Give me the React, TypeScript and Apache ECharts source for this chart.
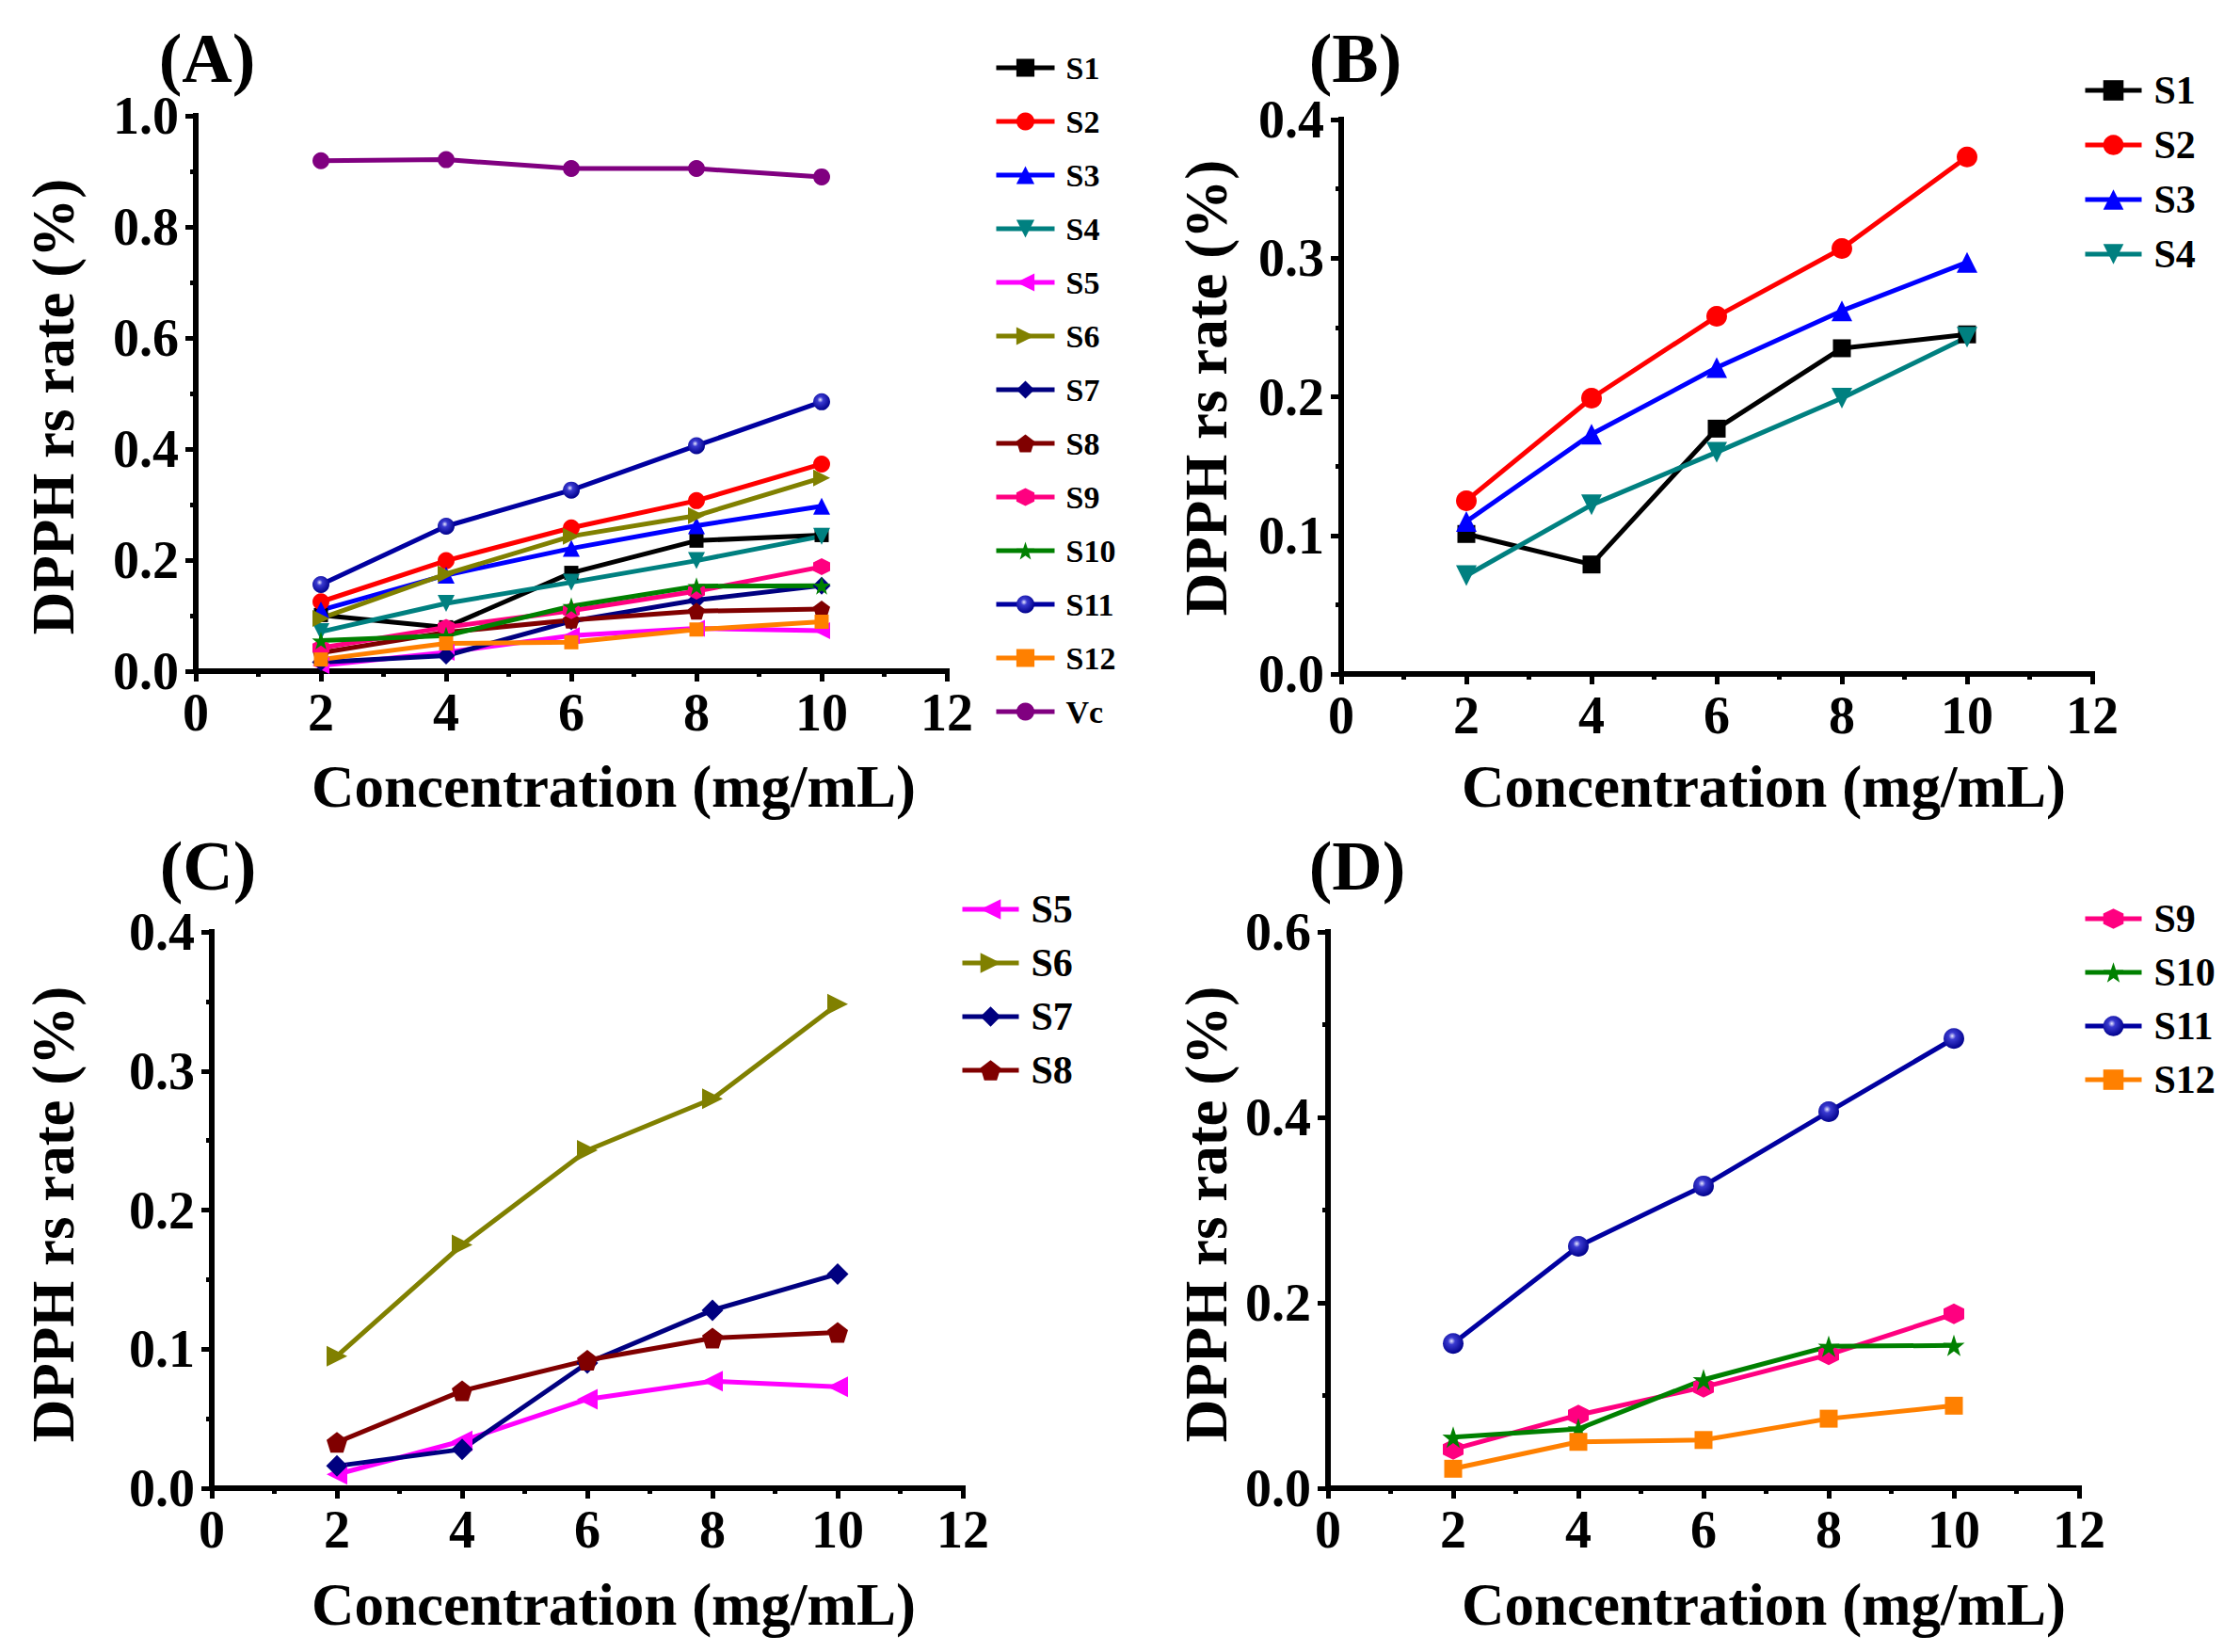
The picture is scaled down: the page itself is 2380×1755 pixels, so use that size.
import React, { useEffect, useRef } from 'react';
import * as echarts from 'echarts';

// ---- data ----
const conc = [2, 4, 6, 8, 10];
const s1 = [0.101, 0.079, 0.177, 0.235, 0.245];
const s2 = [0.125, 0.199, 0.258, 0.307, 0.373];
const s3 = [0.110, 0.173, 0.221, 0.262, 0.297];
const s4 = [0.071, 0.122, 0.160, 0.199, 0.243];
const s5 = [0.010, 0.034, 0.064, 0.077, 0.073];
const s6 = [0.095, 0.175, 0.243, 0.280, 0.348];
const s7 = [0.016, 0.028, 0.090, 0.128, 0.154];
const s8 = [0.033, 0.070, 0.092, 0.108, 0.112];
const s9 = [0.042, 0.079, 0.109, 0.144, 0.188];
const s10 = [0.055, 0.064, 0.117, 0.153, 0.154];
const s11 = [0.156, 0.261, 0.326, 0.406, 0.485];
const s12 = [0.021, 0.050, 0.052, 0.075, 0.089];
const vc = [0.919, 0.921, 0.905, 0.905, 0.890];

const namesA = ['S1', 'S2', 'S3', 'S4', 'S5', 'S6', 'S7', 'S8', 'S9', 'S10', 'S11', 'S12', 'Vc'];
const namesB = ['S1', 'S2', 'S3', 'S4'];
const namesC = ['S5', 'S6', 'S7', 'S8'];
const namesD = ['S9', 'S10', 'S11', 'S12'];
const yMax = [1.0, 0.4, 0.4, 0.6];
const yStep = [0.2, 0.1, 0.1, 0.2];
const panelLabels = ['(A)', '(B)', '(C)', '(D)'];
const xTitle = 'Concentration (mg/mL)';
const yTitle = 'DPPH rs rate (%)';

const FONT = '"Liberation Serif", "Times New Roman", serif';

const values: Record<string, number[]> = {
  S1: s1, S2: s2, S3: s3, S4: s4, S5: s5, S6: s6, S7: s7, S8: s8,
  S9: s9, S10: s10, S11: s11, S12: s12, Vc: vc,
};

const P_TRI_DOWN = 'path://M0,0L10,0L5,9Z';
const P_TRI_LEFT = 'path://M0,5L9,0L9,10Z';
const P_TRI_RIGHT = 'path://M0,0L9,5L0,10Z';
const P_PENT = 'path://M50,0L97.6,34.5L79.4,90.5L20.6,90.5L2.4,34.5Z';
const P_HEX = 'path://M50,0L93.3,25L93.3,75L50,100L6.7,75L6.7,25Z';
const P_STAR = 'path://M50,0L61.8,35.1L97.6,34.5L68.8,56.4L79.4,90.5L50,70L20.6,90.5L31.2,56.4L2.4,34.5L38.2,35.1Z';

function styleOf(name: string): { color: string; fill: any; symbol: string; k: number } {
  switch (name) {
    case 'S1': return { color: '#000000', fill: '#000000', symbol: 'rect', k: 0.85 };
    case 'S2': return { color: '#FF0000', fill: '#FF0000', symbol: 'circle', k: 1 };
    case 'S3': return { color: '#0000FF', fill: '#0000FF', symbol: 'triangle', k: 1 };
    case 'S4': return { color: '#008080', fill: '#008080', symbol: P_TRI_DOWN, k: 1 };
    case 'S5': return { color: '#FF00FF', fill: '#FF00FF', symbol: P_TRI_LEFT, k: 1 };
    case 'S6': return { color: '#808000', fill: '#808000', symbol: P_TRI_RIGHT, k: 1 };
    case 'S7': return { color: '#000080', fill: '#000080', symbol: 'diamond', k: 1.05 };
    case 'S8': return { color: '#800000', fill: '#800000', symbol: P_PENT, k: 1 };
    case 'S9': return { color: '#FF0080', fill: '#FF0080', symbol: P_HEX, k: 1 };
    case 'S10': return { color: '#008000', fill: '#008000', symbol: P_STAR, k: 1.05 };
    case 'S11': return {
      color: '#0000A0',
      fill: new echarts.graphic.RadialGradient(0.42, 0.38, 0.62, [
        { offset: 0, color: '#e8e8ff' },
        { offset: 0.28, color: '#3a3ad0' },
        { offset: 1, color: '#00008c' },
      ]),
      symbol: 'circle', k: 1,
    };
    case 'S12': return { color: '#FF8000', fill: '#FF8000', symbol: 'rect', k: 0.85 };
    default: return { color: '#800080', fill: '#800080', symbol: 'circle', k: 1 };
  }
}

const grids = [
  { left: 208, top: 123, width: 798, height: 590 },
  { left: 1425, top: 127, width: 798, height: 589 },
  { left: 225, top: 990, width: 798, height: 591 },
  { left: 1411, top: 990, width: 798, height: 591 },
];

function buildOption() {
  const panels = [namesA, namesB, namesC, namesD];
  const sizes = [18, 22, 22, 22];
  const series: any[] = [];
  panels.forEach((names, pi) => {
    names.forEach((n) => {
      const st = styleOf(n);
      series.push({
        type: 'line',
        name: n,
        xAxisIndex: pi,
        yAxisIndex: pi,
        data: conc.map((x, i) => [x, values[n][i]]),
        symbol: st.symbol,
        symbolSize: Math.round(sizes[pi] * st.k),
        showAllSymbol: true,
        color: st.color,
        lineStyle: { color: st.color, width: 5 },
        itemStyle: { color: st.fill, borderWidth: 0 },
        emphasis: { disabled: true },
      });
    });
  });

  const axisCommon = {
    axisLine: { show: true, onZero: false, lineStyle: { color: '#000', width: 6, cap: 'square' } },
    axisTick: { show: true, inside: false, length: 11, lineStyle: { color: '#000', width: 5 } },
    minorTick: { show: true, splitNumber: 2, length: 6, lineStyle: { color: '#000', width: 5 } },
    splitLine: { show: false },
    minorSplitLine: { show: false },
  };
  const labelStyle = { color: '#000', fontFamily: FONT, fontWeight: 'bold', fontSize: 56 };

  const xAxis = grids.map((_, i) => ({
    type: 'value', gridIndex: i, min: 0, max: 12, interval: 2,
    ...axisCommon,
    axisLabel: { ...labelStyle, margin: 16 },
  }));
  const yAxis = grids.map((_, i) => ({
    type: 'value', gridIndex: i, min: 0, max: yMax[i], interval: yStep[i],
    ...axisCommon,
    axisLabel: { ...labelStyle, margin: 18, formatter: (v: number) => v.toFixed(1) },
  }));

  const legendText = (fs: number, lh: number, pad: number) => ({
    fontSize: fs, lineHeight: lh, fontFamily: FONT, fontWeight: 'bold', color: '#000', padding: [0, 0, 0, pad],
  });
  const legend = [
    { data: namesA, left: 1056, top: 52, itemWidth: 62, itemHeight: 24, itemGap: 17, textStyle: legendText(34, 40, 7) },
    { data: namesB, left: 2213, top: 74, itemWidth: 60, itemHeight: 27, itemGap: 14, textStyle: legendText(42, 44, 8) },
    { data: namesC, left: 1020, top: 944, itemWidth: 60, itemHeight: 27, itemGap: 13, textStyle: legendText(42, 44, 8) },
    { data: namesD, left: 2213, top: 954, itemWidth: 60, itemHeight: 27, itemGap: 13, textStyle: legendText(42, 44, 8) },
  ].map((l) => ({ ...l, orient: 'vertical', padding: 0, selectedMode: false, lineStyle: { width: 5 } }));

  const labelPos = [[220, 62], [1440, 62], [221, 920], [1442, 920]];
  const xTitlePos = [[652, 836], [1874, 836], [652, 1705], [1874, 1705]];
  const yTitlePos = [[57, 432], [1282, 412], [57, 1290], [1282, 1290]];
  const graphic: any[] = [];
  for (let i = 0; i < 4; i++) {
    graphic.push({
      type: 'text', x: labelPos[i][0], y: labelPos[i][1],
      style: { text: panelLabels[i], font: `bold 74px ${FONT}`, fill: '#000', textAlign: 'center', textVerticalAlign: 'middle' },
    });
    graphic.push({
      type: 'text', x: xTitlePos[i][0], y: xTitlePos[i][1],
      style: { text: xTitle, font: `bold 63px ${FONT}`, fill: '#000', textAlign: 'center', textVerticalAlign: 'middle' },
    });
    graphic.push({
      type: 'text', x: yTitlePos[i][0], y: yTitlePos[i][1], rotation: Math.PI / 2,
      style: { text: yTitle, font: `bold 63px ${FONT}`, fill: '#000', textAlign: 'center', textVerticalAlign: 'middle' },
    });
  }

  return {
    animation: false,
    backgroundColor: '#ffffff',
    grid: grids,
    xAxis,
    yAxis,
    legend,
    series,
    graphic,
  };
}

export default function App() {
  const ref = useRef<HTMLDivElement>(null);
  useEffect(() => {
    document.body.style.margin = '0';
    if (!ref.current) return;
    const chart = echarts.init(ref.current, undefined, { renderer: 'svg' });
    chart.setOption(buildOption() as any);
    return () => chart.dispose();
  }, []);
  return <div ref={ref} style={{ width: 2380, height: 1755, background: '#fff' }} />;
}
